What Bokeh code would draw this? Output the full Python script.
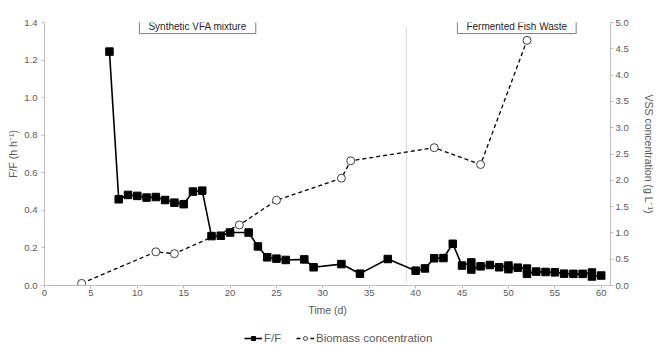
from bokeh.plotting import figure
from bokeh.layouts import column
from bokeh.models import Range1d, LinearAxis, Label, Legend, LegendItem, FixedTicker, PrintfTickFormatter
from bokeh.embed import file_html
from bokeh.resources import INLINE

# F/F data (left axis)
ff_day = [7, 8, 9, 10, 11, 12, 13, 14, 15, 16, 17, 18, 19, 20, 22, 23, 24, 25, 26, 28, 29,
          32, 34, 37, 40, 41, 42, 43, 44, 45, 46, 46, 47, 48, 49, 50, 50, 51, 52, 52,
          53, 54, 55, 56, 57, 58, 59, 59, 60]
ff_val = [1.245, 0.459, 0.482, 0.477, 0.468, 0.471, 0.455, 0.441, 0.433, 0.500, 0.505, 0.263,
          0.265, 0.282, 0.282, 0.208, 0.150, 0.143, 0.136, 0.139, 0.097,
          0.114, 0.063, 0.141, 0.079, 0.091, 0.145, 0.146, 0.222, 0.106, 0.123, 0.085,
          0.102, 0.109, 0.097, 0.106, 0.087, 0.095, 0.090, 0.062,
          0.074, 0.072, 0.070, 0.063, 0.062, 0.062, 0.069, 0.048, 0.053]

# Biomass concentration (right axis, g/L)
bio_day = [4, 12, 14, 21, 25, 32, 33, 42, 47, 52]
bio_val = [0.04, 0.64, 0.605, 1.15, 1.62, 2.04, 2.37, 2.62, 2.30, 4.66]

x_ticks = [0, 5, 10, 15, 20, 25, 30, 35, 40, 45, 50, 55, 60]
left_ticks = [0.0, 0.2, 0.4, 0.6, 0.8, 1.0, 1.2, 1.4]
right_ticks = [0.0, 0.5, 1.0, 1.5, 2.0, 2.5, 3.0, 3.5, 4.0, 4.5, 5.0]
phase_change_day = 39
phase_labels = ["Synthetic VFA mixture", "Fermented Fish Waste"]
phase_label_day = [16.5, 50.9]
series_names = ["F/F", "Biomass concentration"]

FONT = "Liberation Sans"
TXT = "#595959"
AX = "#bfbfbf"

p = figure(width=657, height=318, output_backend="svg", toolbar_location=None,
           x_range=Range1d(0, 61), y_range=Range1d(0, 1.4),
           min_border_left=44, min_border_right=42, min_border_top=22, min_border_bottom=32)
p.outline_line_color = None
p.xgrid.visible = False
p.ygrid.visible = False
p.background_fill_color = "white"

p.extra_y_ranges = {"vss": Range1d(0, 5)}

# vertical separator between feeding phases
p.segment(x0=[phase_change_day], y0=[0.016], x1=[phase_change_day], y1=[1.374],
          line_color="#d9d9d9", line_width=1)

bio_line = dict(line_color="black", line_width=1.3, line_dash="4 3")
bio_mark = dict(marker="circle", size=8, fill_color="white", line_color="#404040", line_width=1)
ff_line = dict(line_color="black", line_width=1.6)
ff_mark = dict(marker="square", size=7.5, fill_color="black", line_color="black")

# Biomass
p.line(bio_day, bio_val, y_range_name="vss", **bio_line)
p.scatter(bio_day, bio_val, y_range_name="vss", **bio_mark)

# F/F
p.line(ff_day, ff_val, **ff_line)
p.scatter(ff_day, ff_val, **ff_mark)


def style_axis(ax):
    ax.axis_line_color = AX
    ax.major_tick_line_color = AX
    ax.minor_tick_line_color = None
    ax.major_tick_out = 3
    ax.major_tick_in = 0
    ax.major_label_text_font = FONT
    ax.major_label_text_font_size = "9.5px"
    ax.major_label_text_color = TXT
    ax.axis_label_text_font = FONT
    ax.axis_label_text_font_size = "10.5px"
    ax.axis_label_text_color = TXT
    ax.axis_label_text_font_style = "normal"


p.xaxis.ticker = FixedTicker(ticks=x_ticks)
p.xaxis.axis_label = "Time (d)"
p.xaxis.major_label_standoff = 1
p.xaxis.axis_label_standoff = 5
p.yaxis.ticker = FixedTicker(ticks=left_ticks)
p.yaxis.formatter = PrintfTickFormatter(format="%.1f")
p.yaxis.axis_label = "F/F (h h⁻¹)"
p.yaxis.major_label_standoff = 4
p.yaxis.axis_label_standoff = 2
style_axis(p.xaxis[0])
style_axis(p.yaxis[0])

rax = LinearAxis(y_range_name="vss", ticker=FixedTicker(ticks=right_ticks),
                 formatter=PrintfTickFormatter(format="%.1f"),
                 axis_label="VSS concentration (g L⁻¹)")
style_axis(rax)
rax.major_label_standoff = 2
rax.axis_label_standoff = 11
p.add_layout(rax, "right")

for txt, d in zip(phase_labels, phase_label_day):
    lab = Label(x=d, y=1.381, text=txt, text_align="center", text_baseline="middle",
                text_font=FONT, text_font_size="10px", text_color="#262626",
                background_fill_color="white", border_line_color="#7f7f7f",
                border_line_width=1, padding=dict(left=9, right=9, top=2, bottom=2))
    p.add_layout(lab)

# legend strip below the chart (same series, drawn outside this strip's view)
q = figure(width=657, height=27, output_backend="svg", toolbar_location=None,
           x_axis_type=None, y_axis_type=None,
           x_range=Range1d(-2, -1), y_range=Range1d(-2, -1), min_border=0)
q.xgrid.visible = False
q.ygrid.visible = False
q.outline_line_color = None
l1 = q.line(ff_day, ff_val, **ff_line)
s1 = q.scatter(ff_day, ff_val, **ff_mark)
l2 = q.line(bio_day, bio_val, **bio_line)
s2 = q.scatter(bio_day, bio_val, **bio_mark)
legend = Legend(items=[LegendItem(label=series_names[0], renderers=[l1, s1]),
                       LegendItem(label=series_names[1], renderers=[l2, s2])],
                orientation="horizontal", location=(200, 1), border_line_color=None,
                background_fill_alpha=0, label_text_font=FONT, label_text_font_size="11.5px",
                label_text_color=TXT, glyph_width=18, glyph_height=10, spacing=12,
                padding=0, margin=0, label_standoff=2, label_height=12)
q.add_layout(legend)

open("out.html", "w").write(file_html(column(p, q, spacing=0), INLINE))
